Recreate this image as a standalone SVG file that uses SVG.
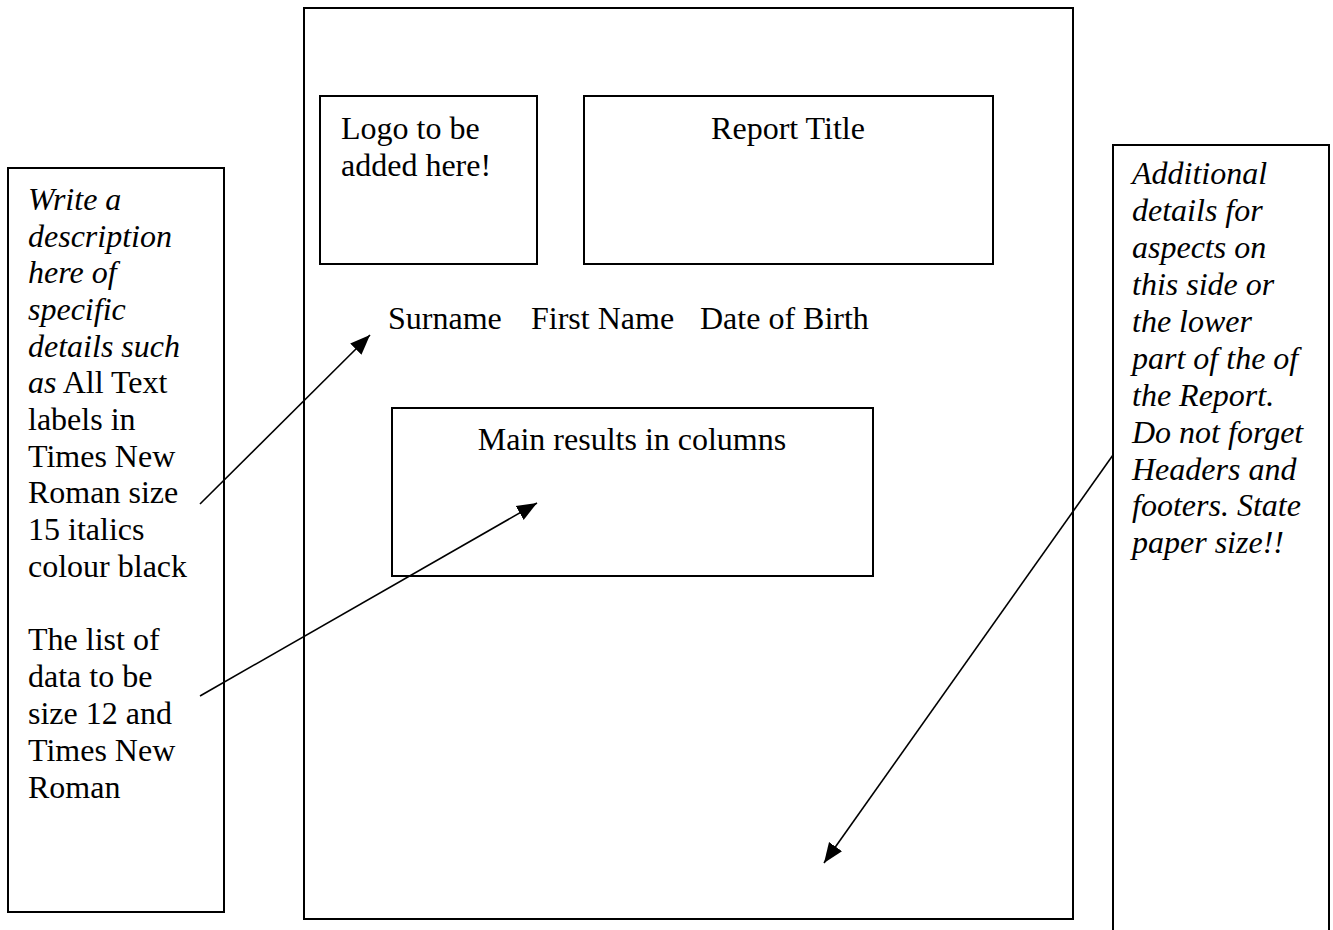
<svg xmlns="http://www.w3.org/2000/svg" width="1333" height="930" viewBox="0 0 1333 930">
<style>
.box{fill:#fff;stroke:#000;stroke-width:2}
.t{font-family:"Liberation Serif","Times New Roman",serif;font-size:32px;fill:#000}
.i{font-style:italic}
.c{stroke:#000;stroke-width:1.6;fill:none;marker-end:url(#ah)}
</style>
<defs>
<marker id="ah" markerUnits="userSpaceOnUse" markerWidth="22" markerHeight="18" refX="20" refY="8" orient="auto" viewBox="0 0 22 16">
<path d="M0,0 L20,8 L0,16 Z" fill="#000"/>
</marker>
</defs>
<rect width="1333" height="930" fill="#fff"/>
<g id="page"><rect class="box" x="304" y="8" width="769" height="911"/></g>
<g id="logo"><rect class="box" x="320" y="96" width="217" height="168"/>
<text class="t" x="341" y="139">Logo to be</text>
<text class="t" x="341" y="176">added here!</text></g>
<g id="title"><rect class="box" x="584" y="96" width="409" height="168"/>
<text class="t" x="788" y="139" text-anchor="middle">Report Title</text></g>
<g id="fields"><text class="t" x="388" y="329">Surname</text>
<text class="t" x="531" y="329">First Name</text>
<text class="t" x="700" y="329">Date of Birth</text></g>
<g id="main"><rect class="box" x="392" y="408" width="481" height="168"/>
<text class="t" x="632" y="450" text-anchor="middle">Main results in columns</text></g>
<g id="left-note"><rect class="box" x="8" y="168" width="216" height="744"/>
<text class="t" x="28">
<tspan class="i" x="28" y="210">Write a</tspan>
<tspan class="i" x="28" y="247">description</tspan>
<tspan class="i" x="28" y="283">here of</tspan>
<tspan class="i" x="28" y="320">specific</tspan>
<tspan class="i" x="28" y="357">details such</tspan>
<tspan x="28" y="393"><tspan class="i">as</tspan> All Text</tspan>
<tspan x="28" y="430">labels in</tspan>
<tspan x="28" y="467">Times New</tspan>
<tspan x="28" y="503">Roman size</tspan>
<tspan x="28" y="540">15 italics</tspan>
<tspan x="28" y="577">colour black</tspan>
<tspan x="28" y="650">The list of</tspan>
<tspan x="28" y="687">data to be</tspan>
<tspan x="28" y="724">size 12 and</tspan>
<tspan x="28" y="761">Times New</tspan>
<tspan x="28" y="798">Roman</tspan>
</text></g>
<g id="right-note"><rect class="box" x="1113" y="145" width="216" height="800"/>
<text class="t i">
<tspan x="1132" y="184">Additional</tspan>
<tspan x="1132" y="221">details for</tspan>
<tspan x="1132" y="258">aspects on</tspan>
<tspan x="1132" y="295">this side or</tspan>
<tspan x="1132" y="332">the lower</tspan>
<tspan x="1132" y="369">part of the of</tspan>
<tspan x="1132" y="406">the Report.</tspan>
<tspan x="1132" y="443">Do not forget</tspan>
<tspan x="1132" y="480">Headers and</tspan>
<tspan x="1132" y="516">footers. State</tspan>
<tspan x="1132" y="553">paper size!!</tspan>
</text></g>
<g id="connectors">
<line class="c" x1="200" y1="504" x2="370" y2="335"/>
<line class="c" x1="200" y1="696" x2="537" y2="503"/>
<line class="c" x1="1113" y1="455" x2="824" y2="863"/>
</g>
</svg>
